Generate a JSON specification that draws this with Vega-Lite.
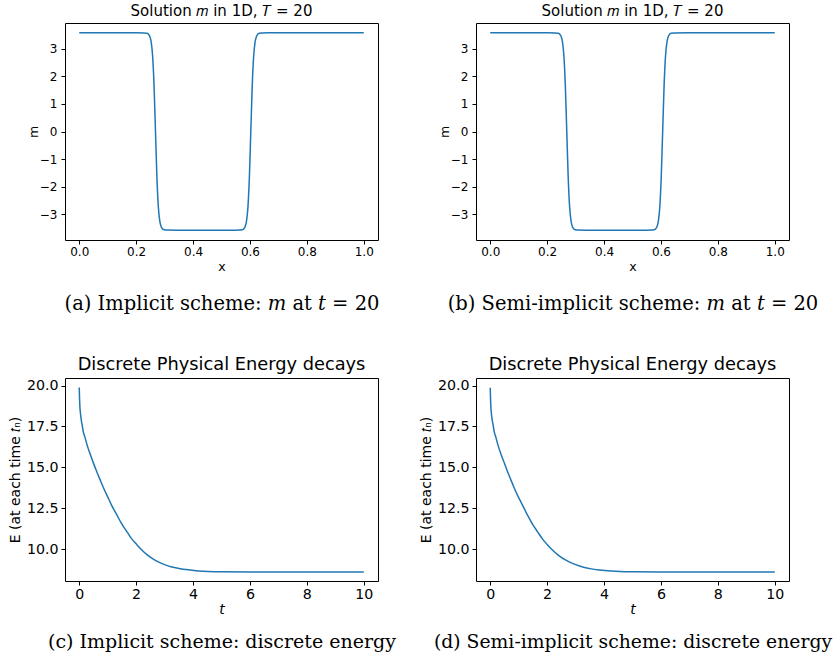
{
 "$schema": "https://vega.github.io/schema/vega-lite/v6.json",
 "padding": {"left": 7, "top": 3, "right": 0, "bottom": 0},
 "background": "white",
 "datasets": {
  "mA": [
   {"x":0,"m":3.575},{"x":0.1,"m":3.575},{"x":0.2,"m":3.575},{"x":0.228,"m":3.572},{"x":0.238,"m":3.557},{"x":0.243,"m":3.529},{"x":0.248,"m":3.446},{"x":0.253,"m":3.235},{"x":0.258,"m":2.724},{"x":0.263,"m":1.652},{"x":0.268,"m":0},{"x":0.273,"m":-1.652},{"x":0.278,"m":-2.724},{"x":0.283,"m":-3.235},{"x":0.288,"m":-3.446},{"x":0.293,"m":-3.529},{"x":0.298,"m":-3.557},{"x":0.308,"m":-3.572},{"x":0.35,"m":-3.575},{"x":0.45,"m":-3.575},{"x":0.55,"m":-3.575},{"x":0.563,"m":-3.572},{"x":0.573,"m":-3.557},{"x":0.578,"m":-3.529},{"x":0.583,"m":-3.446},{"x":0.588,"m":-3.235},{"x":0.593,"m":-2.724},{"x":0.598,"m":-1.652},{"x":0.603,"m":0},{"x":0.608,"m":1.652},{"x":0.613,"m":2.724},{"x":0.618,"m":3.235},{"x":0.623,"m":3.446},{"x":0.628,"m":3.529},{"x":0.633,"m":3.557},{"x":0.643,"m":3.572},{"x":0.7,"m":3.575},{"x":0.8,"m":3.575},{"x":0.9,"m":3.575},{"x":1.0,"m":3.575}
  ],
  "mB": [
   {"x":0,"m":3.575},{"x":0.1,"m":3.575},{"x":0.2,"m":3.575},{"x":0.229,"m":3.572},{"x":0.239,"m":3.557},{"x":0.244,"m":3.529},{"x":0.249,"m":3.446},{"x":0.254,"m":3.235},{"x":0.259,"m":2.724},{"x":0.264,"m":1.652},{"x":0.269,"m":0},{"x":0.274,"m":-1.652},{"x":0.279,"m":-2.724},{"x":0.284,"m":-3.235},{"x":0.289,"m":-3.446},{"x":0.294,"m":-3.529},{"x":0.299,"m":-3.557},{"x":0.309,"m":-3.572},{"x":0.35,"m":-3.575},{"x":0.45,"m":-3.575},{"x":0.55,"m":-3.575},{"x":0.566,"m":-3.572},{"x":0.576,"m":-3.557},{"x":0.581,"m":-3.529},{"x":0.586,"m":-3.446},{"x":0.591,"m":-3.235},{"x":0.596,"m":-2.724},{"x":0.601,"m":-1.652},{"x":0.606,"m":0},{"x":0.611,"m":1.652},{"x":0.616,"m":2.724},{"x":0.621,"m":3.235},{"x":0.626,"m":3.446},{"x":0.631,"m":3.529},{"x":0.636,"m":3.557},{"x":0.646,"m":3.572},{"x":0.7,"m":3.575},{"x":0.8,"m":3.575},{"x":0.9,"m":3.575},{"x":1.0,"m":3.575}
  ],
  "eC": [
   {"t":0,"E":19.88},{"t":0.01,"E":19.25},{"t":0.02,"E":18.8},{"t":0.04,"E":18.35},{"t":0.07,"E":17.92},{"t":0.1,"E":17.62},{"t":0.14,"E":17.2},{"t":0.2,"E":16.85},{"t":0.25,"E":16.53},{"t":0.32,"E":16.13},{"t":0.4,"E":15.74},{"t":0.5,"E":15.26},{"t":0.6,"E":14.81},{"t":0.7,"E":14.39},{"t":0.84,"E":13.8},{"t":1.0,"E":13.2},{"t":1.14,"E":12.68},{"t":1.3,"E":12.17},{"t":1.49,"E":11.56},{"t":1.7,"E":11.01},{"t":1.84,"E":10.65},{"t":2.0,"E":10.33},{"t":2.19,"E":9.97},{"t":2.4,"E":9.64},{"t":2.66,"E":9.34},{"t":3.0,"E":9.06},{"t":3.25,"E":8.92},{"t":3.5,"E":8.83},{"t":3.84,"E":8.74},{"t":4.2,"E":8.67},{"t":4.54,"E":8.635},{"t":5,"E":8.62},{"t":6,"E":8.615},{"t":7,"E":8.615},{"t":8,"E":8.615},{"t":9,"E":8.615},{"t":10,"E":8.615}
  ],
  "eD": [
   {"t":0,"E":19.86},{"t":0.01,"E":19.2},{"t":0.02,"E":18.75},{"t":0.04,"E":18.3},{"t":0.07,"E":17.9},{"t":0.1,"E":17.6},{"t":0.14,"E":17.18},{"t":0.2,"E":16.83},{"t":0.25,"E":16.5},{"t":0.32,"E":16.1},{"t":0.4,"E":15.7},{"t":0.49,"E":15.3},{"t":0.6,"E":14.78},{"t":0.7,"E":14.35},{"t":0.84,"E":13.76},{"t":1.0,"E":13.15},{"t":1.08,"E":12.88},{"t":1.3,"E":12.12},{"t":1.49,"E":11.52},{"t":1.67,"E":11.05},{"t":1.84,"E":10.62},{"t":2.0,"E":10.29},{"t":2.14,"E":10.03},{"t":2.4,"E":9.63},{"t":2.66,"E":9.33},{"t":2.85,"E":9.17},{"t":3.25,"E":8.92},{"t":3.55,"E":8.8},{"t":3.84,"E":8.73},{"t":4.25,"E":8.665},{"t":4.54,"E":8.635},{"t":5,"E":8.62},{"t":6,"E":8.615},{"t":7,"E":8.615},{"t":8,"E":8.615},{"t":9,"E":8.615},{"t":10,"E":8.615}
  ]
 },
 "config": {
  "view": {"stroke": "black", "strokeWidth": 1},
  "font": "DejaVu Sans",
  "axis": {"grid": false, "domain": false, "tickColor": "black", "tickSize": 4, "tickWidth": 1, "labelColor": "black", "titleColor": "black", "labelFont": "DejaVu Sans", "titleFont": "DejaVu Sans", "titleFontWeight": "normal", "labelFlush": false, "labelOverlap": false},
  "title": {"font": "DejaVu Sans", "fontWeight": "normal", "color": "black", "anchor": "middle", "baseline": "alphabetic", "offset": 4},
  "line": {"color": "#1f77b4", "strokeWidth": 1.5, "interpolate": "monotone"}
 },
 "columns": 2,
 "spacing": {"row": 138, "column": 98},
 "bounds": "flush",
 "concat": [
  {
   "width": 313, "height": 217,
   "title": {"text": "Solution 𝑚 in 1D, 𝑇 = 20", "fontSize": 15},
   "data": {"name": "mA"},
   "encoding": {"y": {"field": "m", "type": "quantitative", "scale": {"domain": [-3.93, 3.93], "nice": false, "zero": false}, "axis": {"values": [-3,-2,-1,0,1,2,3], "format": "d", "labelFontSize": 12, "labelPadding": 4, "title": "m", "titleFontSize": 12.5, "titleX": -28, "titleBaseline": "alphabetic"}}},
   "layer": [
    {"mark": "line", "encoding": {"x": {"field": "x", "type": "quantitative", "scale": {"domain": [-0.05, 1.05], "nice": false, "zero": false}, "axis": {"values": [0,0.2,0.4,0.6,0.8,1.0], "format": ".1f", "labelFontSize": 12, "labelPadding": 2, "title": "x", "titleFontSize": 12.5, "titleY": 30.5, "titleBaseline": "alphabetic"}}}},
    {"mark": {"type": "line", "opacity": 0}, "encoding": {"x": {"field": "x", "type": "quantitative", "axis": {"orient": "bottom", "labels": false, "ticks": false, "domain": false, "title": "(a) Implicit scheme: 𝑚 at 𝑡 = 20", "titleFont": "DejaVu Serif", "titleFontSize": 19.5, "titleY": 69, "titleBaseline": "alphabetic"}}}}
   ],
   "resolve": {"axis": {"x": "independent"}}
  },
  {
   "width": 313, "height": 217,
   "title": {"text": "Solution 𝑚 in 1D, 𝑇 = 20", "fontSize": 15},
   "data": {"name": "mB"},
   "encoding": {"y": {"field": "m", "type": "quantitative", "scale": {"domain": [-3.93, 3.93], "nice": false, "zero": false}, "axis": {"values": [-3,-2,-1,0,1,2,3], "format": "d", "labelFontSize": 12, "labelPadding": 4, "title": "m", "titleFontSize": 12.5, "titleX": -28, "titleBaseline": "alphabetic"}}},
   "layer": [
    {"mark": "line", "encoding": {"x": {"field": "x", "type": "quantitative", "scale": {"domain": [-0.05, 1.05], "nice": false, "zero": false}, "axis": {"values": [0,0.2,0.4,0.6,0.8,1.0], "format": ".1f", "labelFontSize": 12, "labelPadding": 2, "title": "x", "titleFontSize": 12.5, "titleY": 30.5, "titleBaseline": "alphabetic"}}}},
    {"mark": {"type": "line", "opacity": 0}, "encoding": {"x": {"field": "x", "type": "quantitative", "axis": {"orient": "bottom", "labels": false, "ticks": false, "domain": false, "title": "(b) Semi-implicit scheme: 𝑚 at 𝑡 = 20", "titleFont": "DejaVu Serif", "titleFontSize": 19.5, "titleY": 69, "titleBaseline": "alphabetic"}}}}
   ],
   "resolve": {"axis": {"x": "independent"}}
  },
  {
   "width": 313, "height": 203,
   "title": {"text": "Discrete Physical Energy decays", "fontSize": 17.8},
   "data": {"name": "eC"},
   "encoding": {"y": {"field": "E", "type": "quantitative", "scale": {"domain": [8.06, 20.46], "nice": false, "zero": false}, "axis": {"values": [10,12.5,15,17.5,20], "format": ".1f", "labelFontSize": 14.2, "labelPadding": 3, "title": "E (at each time 𝑡ₙ)", "titleFontSize": 14, "titleX": -46, "titleBaseline": "alphabetic"}}},
   "layer": [
    {"mark": "line", "encoding": {"x": {"field": "t", "type": "quantitative", "scale": {"domain": [-0.5, 10.5], "nice": false, "zero": false}, "axis": {"values": [0,2,4,6,8,10], "format": "d", "labelFontSize": 14.2, "labelPadding": 2, "title": "t", "titleFontStyle": "italic", "titleFontSize": 14, "titleY": 32, "titleBaseline": "alphabetic"}}}},
    {"mark": {"type": "line", "opacity": 0}, "encoding": {"x": {"field": "t", "type": "quantitative", "axis": {"orient": "bottom", "labels": false, "ticks": false, "domain": false, "title": "(c) Implicit scheme: discrete energy", "titleFont": "DejaVu Serif", "titleFontSize": 19, "titleY": 66, "titleBaseline": "alphabetic"}}}}
   ],
   "resolve": {"axis": {"x": "independent"}}
  },
  {
   "width": 313, "height": 203,
   "title": {"text": "Discrete Physical Energy decays", "fontSize": 17.8},
   "data": {"name": "eD"},
   "encoding": {"y": {"field": "E", "type": "quantitative", "scale": {"domain": [8.06, 20.46], "nice": false, "zero": false}, "axis": {"values": [10,12.5,15,17.5,20], "format": ".1f", "labelFontSize": 14.2, "labelPadding": 3, "title": "E (at each time 𝑡ₙ)", "titleFontSize": 14, "titleX": -46, "titleBaseline": "alphabetic"}}},
   "layer": [
    {"mark": "line", "encoding": {"x": {"field": "t", "type": "quantitative", "scale": {"domain": [-0.5, 10.5], "nice": false, "zero": false}, "axis": {"values": [0,2,4,6,8,10], "format": "d", "labelFontSize": 14.2, "labelPadding": 2, "title": "t", "titleFontStyle": "italic", "titleFontSize": 14, "titleY": 32, "titleBaseline": "alphabetic"}}}},
    {"mark": {"type": "line", "opacity": 0}, "encoding": {"x": {"field": "t", "type": "quantitative", "axis": {"orient": "bottom", "labels": false, "ticks": false, "domain": false, "title": "(d) Semi-implicit scheme: discrete energy", "titleFont": "DejaVu Serif", "titleFontSize": 18.8, "titleY": 66, "titleBaseline": "alphabetic"}}}}
   ],
   "resolve": {"axis": {"x": "independent"}}
  }
 ]
}
